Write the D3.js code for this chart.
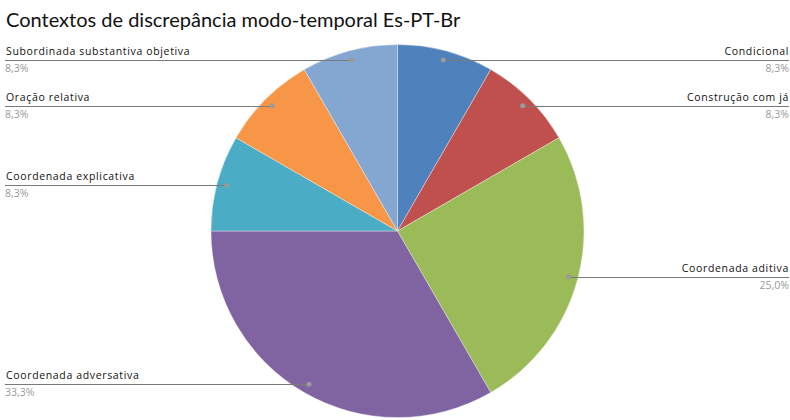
<!DOCTYPE html>
<html><head><meta charset="utf-8">
<script src="https://cdn.jsdelivr.net/npm/d3@7"></script>
<style>body{margin:0;background:#fff}svg{display:block}</style>
</head><body>
<svg id="c" width="790" height="420"></svg>
<script>
const categories = ["Condicional","Construção com já","Coordenada aditiva","Coordenada adversativa","Coordenada explicativa","Oração relativa","Subordinada substantiva objetiva"];
const values = [1,1,3,4,1,1,1];
const pctLabels = ["8,3%","8,3%","25,0%","33,3%","8,3%","8,3%","8,3%"];
const colors = ["#4F81BD","#C0504D","#9BBB59","#8064A2","#4BACC6","#F79646","#84A7D2"];

const W=790,H=420, cx=397.5, cy=231, R=186.5, dotR=177;
const svg=d3.select("#c");
svg.append("rect").attr("width",W).attr("height",H).attr("fill","#fff");
svg.append("text").attr("x",6).attr("y",27).attr("font-family","Lato, sans-serif")
  .attr("font-size",20).attr("fill","#111").text("Contextos de discrepância modo-temporal Es-PT-Br");

const data=categories.map((c,i)=>({cat:c,v:values[i],pct:pctLabels[i],col:colors[i]}));
const pie=d3.pie().value(d=>d.v).sort(null);
const arcs=pie(data);
const arc=d3.arc().innerRadius(0).outerRadius(R);
const g=svg.append("g").attr("transform",`translate(${cx},${cy})`);
g.selectAll("path").data(arcs).join("path").attr("d",arc).attr("fill",d=>d.data.col)
  .attr("stroke","rgba(255,255,255,0.35)").attr("stroke-width",1);

const lab=svg.append("g");
arcs.forEach(a=>{
  const m=(a.startAngle+a.endAngle)/2;
  const px=cx+dotR*Math.sin(m), py=cy-dotR*Math.cos(m);
  const right=Math.sin(m)>0;
  const ly=Math.round(py)+0.5;
  const ex=right?789:5;
  lab.append("line").attr("x1",px).attr("y1",ly).attr("x2",ex).attr("y2",ly)
    .attr("stroke","#7a7a7a").attr("stroke-width",1);
  lab.append("circle").attr("cx",px).attr("cy",py).attr("r",2.5).attr("fill","#9a9a9a");
  lab.append("text").attr("x",right?789:6).attr("y",ly-6).attr("text-anchor",right?"end":"start")
    .attr("font-family","'Open Sans', sans-serif").attr("font-size",10.5).attr("letter-spacing",0.65)
    .attr("fill","#111").text(a.data.cat);
  lab.append("text").attr("x",right?789:5).attr("y",ly+11.5).attr("text-anchor",right?"end":"start")
    .attr("font-family","'Open Sans', sans-serif").attr("font-size",10.5)
    .attr("fill","#9a9a9a").text(a.data.pct);
});
</script>
</body></html>
